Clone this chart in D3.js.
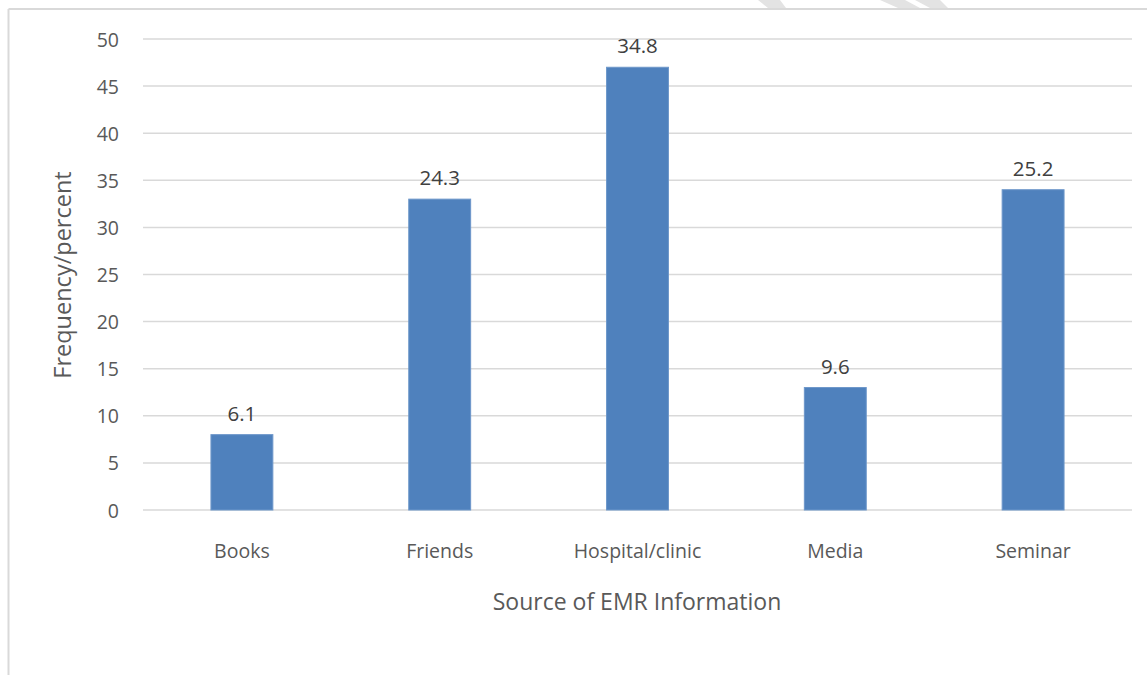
<!DOCTYPE html>
<html>
<head>
<meta charset="utf-8">
<script src="https://cdn.jsdelivr.net/npm/d3@7"></script>
<style>
  body { margin: 0; background: #fff; }
  svg text { font-family: "Open Sans", "Noto Sans", sans-serif; }
</style>
</head>
<body>
<div id="chart"></div>
<script>
// data
var categories = ["Books", "Friends", "Hospital/clinic", "Media", "Seminar"];
var frequency = [8, 33, 47, 13, 34];
var percentLabels = ["6.1", "24.3", "34.8", "9.6", "25.2"];
var yTicks = [0, 5, 10, 15, 20, 25, 30, 35, 40, 45, 50];

var width = 1147, height = 675;
var margin = { top: 39, right: 15, bottom: 165, left: 143 };

var svg = d3.select("#chart").append("svg")
    .attr("width", width)
    .attr("height", height);

// page frame (left and top edges only are visible)
svg.append("line")
    .attr("x1", 8.5).attr("y1", 9).attr("x2", width).attr("y2", 9)
    .attr("stroke", "#d9d9d9").attr("stroke-width", 2);
svg.append("line")
    .attr("x1", 8.5).attr("y1", 9).attr("x2", 8.5).attr("y2", height)
    .attr("stroke", "#d9d9d9").attr("stroke-width", 2);

// faint watermark fragments along the top edge
svg.append("path")
    .attr("d", "M758,0 L780,0 L786,8 L768,8 Z M880,0 L905,0 L920,8 L898,8 Z M915,0 L940,0 L948,8 L930,8 Z")
    .attr("fill", "#e3e3e3");

var x = d3.scaleBand()
    .domain(categories)
    .range([margin.left, 1132])
    .paddingInner(0.687)
    .paddingOuter(0.3435);

var y = d3.scaleLinear()
    .domain([0, 50])
    .range([510, margin.top]);

// gridlines
svg.append("g")
    .selectAll("line")
    .data(yTicks)
    .enter().append("line")
    .attr("x1", margin.left)
    .attr("x2", 1132)
    .attr("y1", d => y(d))
    .attr("y2", d => y(d))
    .attr("stroke", "#d9d9d9")
    .attr("stroke-width", 1.5);

// y tick labels
svg.append("g")
    .selectAll("text")
    .data(yTicks)
    .enter().append("text")
    .attr("x", 119)
    .attr("y", d => y(d))
    .attr("text-anchor", "end")
    .attr("dominant-baseline", "central")
    .style("font-size", "19.5px")
    .style("fill", "#595959")
    .text(d => d);

// bars
svg.append("g")
    .selectAll("rect")
    .data(frequency)
    .enter().append("rect")
    .attr("x", (d, i) => x(categories[i]))
    .attr("y", d => y(d))
    .attr("width", x.bandwidth())
    .attr("height", d => y(0) - y(d))
    .attr("fill", "#4f81bd")
    .attr("stroke", "#6d97ca")
    .attr("stroke-width", 1);

// data labels
svg.append("g")
    .selectAll("text")
    .data(frequency)
    .enter().append("text")
    .attr("x", (d, i) => x(categories[i]) + x.bandwidth() / 2)
    .attr("y", d => y(d) - 22)
    .attr("text-anchor", "middle")
    .attr("dominant-baseline", "central")
    .style("font-size", "20.5px")
    .style("fill", "#404040")
    .text((d, i) => percentLabels[i]);

// category labels
svg.append("g")
    .selectAll("text")
    .data(categories)
    .enter().append("text")
    .attr("x", d => x(d) + x.bandwidth() / 2)
    .attr("y", 550)
    .attr("text-anchor", "middle")
    .attr("dominant-baseline", "central")
    .style("font-size", "19.5px")
    .style("fill", "#595959")
    .text(d => d);

// axis titles
svg.append("text")
    .attr("x", 637)
    .attr("y", 601)
    .attr("text-anchor", "middle")
    .attr("dominant-baseline", "central")
    .style("font-size", "23px")
    .style("fill", "#595959")
    .text("Source of EMR Information");

svg.append("text")
    .attr("transform", "translate(62,275) rotate(-90)")
    .attr("text-anchor", "middle")
    .attr("dominant-baseline", "central")
    .style("font-size", "23.5px")
    .style("fill", "#595959")
    .text("Frequency/percent");
</script>
</body>
</html>
